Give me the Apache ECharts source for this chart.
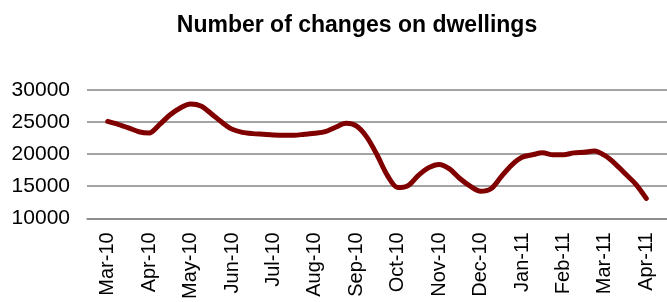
<!DOCTYPE html>
<html>
<head>
  <meta charset="utf-8">
  <title>dwellings</title>
  <style>
    html, body { margin: 0; padding: 0; background: #fff; }
  </style>
</head>
<body>
<div id="main" style="width:667px;height:302px;"></div>
<script src="https://cdn.jsdelivr.net/npm/echarts@6/dist/echarts.min.js"></script>
<script>
  // month labels on the x axis
  var months = ['Mar-10', 'Apr-10', 'May-10', 'Jun-10', 'Jul-10', 'Aug-10', 'Sep-10',
    'Oct-10', 'Nov-10', 'Dec-10', 'Jan-11', 'Feb-11', 'Mar-11', 'Apr-11'];

  // position in months from Mar-10 (quarter month steps)
  var monthPos = [];
  for (var i = 0; i <= 52; i++) monthPos.push(i / 4);

  // number of changes
  var changes = [
    25100, 24650, 24100, 23500, 23300, 24600, 26100, 27200,
    27800, 27500, 26300, 25000, 23900, 23400, 23200, 23100,
    23000, 22950, 22950, 23100, 23250, 23500, 24200, 24800,
    24400, 22700, 19900, 16700, 14800, 15100, 16700, 17900,
    18400, 17700, 16200, 15000, 14200, 14600, 16500, 18300,
    19500, 19900, 20200, 19900, 19900, 20200, 20300, 20500,
    19800, 18500, 16900, 15300, 13100
  ];

  var points = monthPos.map(function (t, i) { return [t, changes[i]]; });

  var myChart = echarts.init(document.getElementById('main'));
  myChart.setOption({
    animation: false,
    title: {
      text: 'Number of changes on dwellings',
      left: 352,
      textAlign: 'center',
      top: 9,
      textStyle: {
        fontFamily: 'Liberation Sans, Arial, sans-serif',
        fontSize: 23,
        fontWeight: 'bold',
        color: '#000'
      }
    },
    grid: {
      left: 87,
      top: 90,
      width: 588,
      height: 130
    },
    xAxis: [{
      type: 'category',
      data: months,
      boundaryGap: true,
      axisLine: { lineStyle: { color: '#868686', width: 1.5 } },
      axisTick: { interval: 0, length: 5, lineStyle: { color: '#868686', width: 1 } },
      axisLabel: {
        interval: 0,
        rotate: 90,
        margin: 14,
        color: '#000',
        fontFamily: 'Liberation Sans, Arial, sans-serif',
        fontSize: 20
      }
    }, {
      type: 'value',
      min: -0.5,
      max: 13.5,
      show: false
    }],
    yAxis: {
      type: 'value',
      min: 10000,
      max: 30000,
      interval: 5000,
      axisLine: { show: false },
      axisTick: { show: false },
      splitLine: { lineStyle: { color: '#868686', width: 1.5 } },
      axisLabel: {
        margin: 17,
        color: '#000',
        fontFamily: 'Liberation Sans, Arial, sans-serif',
        fontSize: 21,
        formatter: function (v) { return String(v); }
      }
    },
    series: [{
      type: 'line',
      xAxisIndex: 1,
      data: points,
      smooth: 0.3,
      showSymbol: false,
      lineStyle: { color: '#800000', width: 5, cap: 'round', join: 'round' }
    }]
  });
</script>
</body>
</html>
